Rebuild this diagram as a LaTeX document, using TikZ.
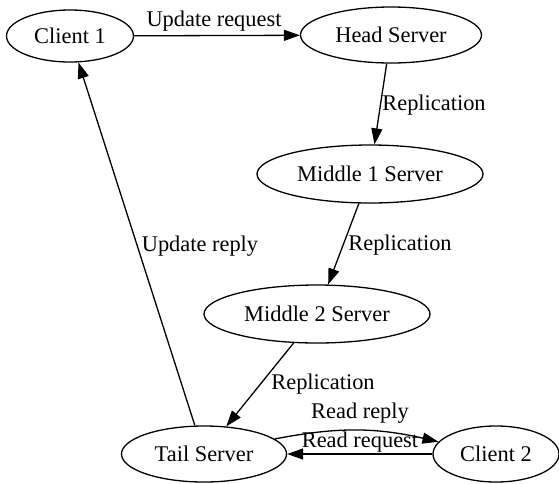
\documentclass[tikz,border=0pt]{standalone}
\usepackage{fontspec}
\setmainfont{Liberation Serif}
\usetikzlibrary{shapes.geometric,arrows.meta}
\tikzstyle{box}=[draw=black,ellipse,inner sep=0pt,line width=1.3pt]
\tikzstyle{link}=[line width=1.3pt,-{Triangle[length=16pt,width=11pt]}]
\tikzstyle{lab}=[inner sep=0pt]
\begin{document}
\begin{tikzpicture}[x=1pt, y=-1pt, font=\fontsize{22.4}{26}\selectfont]
	\useasboundingbox (0,0) rectangle (559,483);
	%nodes
	\node[box, minimum width=127pt, minimum height=52pt] (client1) at (70,36) {Client 1};
	\node[box, minimum width=181pt, minimum height=56pt] (head) at (391,35) {Head Server};
	\node[box, minimum width=226pt, minimum height=58pt] (mid1) at (370,174) {Middle 1 Server};
	\node[box, minimum width=226pt, minimum height=58pt] (mid2) at (317,314) {Middle 2 Server};
	\node[box, minimum width=165pt, minimum height=56pt] (tail) at (204,454) {Tail Server};
	\node[box, minimum width=126pt, minimum height=56pt] (client2) at (496,454) {Client 2};
	%edges
	\draw[link] (client1) -- (head);
	\draw[link] (head) -- (mid1);
	\draw[link] (mid1) -- (mid2);
	\draw[link] (mid2) -- (tail);
	\draw[link] (tail) -- (client1);
	\draw[link] (tail) to[bend left=12] (client2);
	\draw[link] (client2) -- (tail);
	%labels
	\node[lab] (l1) at (214,21) {Update request};
	\node[lab] (l2) at (434,105) {Replication};
	\node[lab] (l3) at (400,245) {Replication};
	\node[lab] (l4) at (323,384) {Replication};
	\node[lab] (l5) at (200,246) {Update reply};
	\node[lab] (l6) at (360,413) {Read reply};
	\node[lab] (l7) at (360,442) {Read request};
\end{tikzpicture}
\end{document}
